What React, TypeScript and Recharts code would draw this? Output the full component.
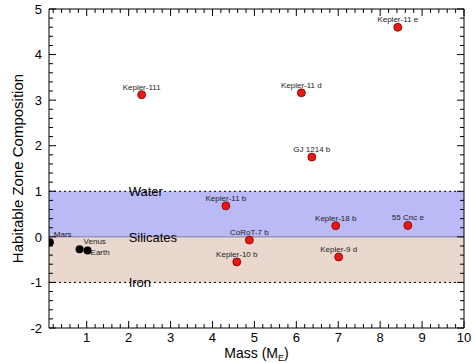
import React from 'react';
import {
  ScatterChart,
  Scatter,
  XAxis,
  YAxis,
  ReferenceArea,
  ReferenceLine,
} from 'recharts';

// exoplanets (mass in Earth masses, habitable zone composition)
const planetNames = [
  'Kepler-11 e', 'Kepler-111', 'Kepler-11 d', 'GJ 1214 b', 'Kepler-11 b',
  'CoRoT-7 b', 'Kepler-10 b', 'Kepler-18 b', '55 Cnc e', 'Kepler-9 d',
];
const planetMass = [8.42, 2.31, 6.12, 6.37, 4.32, 4.88, 4.58, 6.94, 8.66, 7.01];
const planetComp = [4.6, 3.12, 3.16, 1.75, 0.68, -0.07, -0.55, 0.245, 0.25, -0.44];

// solar system planets
const solarNames = ['Mars', 'Venus', 'Earth'];
const solarMass = [0.12, 0.83, 1.02];
const solarComp = [-0.12, -0.27, -0.3];
const solarLabelSide = ['aboveRight', 'aboveRight', 'right'];

// composition zones
const zoneNames = ['Water', 'Silicates', 'Iron'];
const zoneLevels = [1, 0, -1];
const zoneStartMass = 2;

const xMajor = [1, 2, 3, 4, 5, 6, 7, 8, 9, 10];
const yMajor = [-2, -1, 0, 1, 2, 3, 4, 5];
const xTicks = Array.from({ length: 50 }, (_, i) => Math.round((i + 1) * 2) / 10);
const yTicks = Array.from({ length: 36 }, (_, i) => Math.round((-2 + i * 0.2) * 10) / 10);

const planets = planetNames.map((name, i) => ({ name, x: planetMass[i], y: planetComp[i] }));
const solar = solarNames.map((name, i) => ({ name, x: solarMass[i], y: solarComp[i], side: solarLabelSide[i] }));
const zones = zoneNames.map((name, i) => ({ name, x: zoneStartMass, y: zoneLevels[i] }));

const FONT = '"Liberation Sans", Arial, Helvetica, sans-serif';
const isMajor = (v: number) => Math.abs(v - Math.round(v)) < 1e-6;

const BottomTick = ({ x, y, payload }: any) => {
  const major = isMajor(payload.value);
  return (
    <g>
      <line x1={x} y1={y} x2={x} y2={y - (major ? 7 : 4)} stroke="#000" />
      {major && xMajor.includes(Math.round(payload.value)) && (
        <text x={x} y={y + 14} textAnchor="middle" fontSize={13} fontFamily={FONT} fill="#000">
          {Math.round(payload.value)}
        </text>
      )}
    </g>
  );
};

const TopTick = ({ x, y, payload }: any) => (
  <line x1={x} y1={y} x2={x} y2={y + (isMajor(payload.value) ? 7 : 4)} stroke="#000" />
);

const LeftTick = ({ x, y, payload }: any) => {
  const major = isMajor(payload.value);
  return (
    <g>
      <line x1={x} y1={y} x2={x + (major ? 7 : 4)} y2={y} stroke="#000" />
      {major && yMajor.includes(Math.round(payload.value)) && (
        <text x={x - 7} y={y} dy="0.36em" textAnchor="end" fontSize={13} fontFamily={FONT} fill="#000">
          {Math.round(payload.value)}
        </text>
      )}
    </g>
  );
};

const RightTick = ({ x, y, payload }: any) => (
  <line x1={x} y1={y} x2={x - (isMajor(payload.value) ? 7 : 4)} y2={y} stroke="#000" />
);

const PlanetDot = ({ cx, cy, payload }: any) => (
  <g>
    <circle cx={cx} cy={cy} r={4} fill="#e8190f" stroke="#7a0000" strokeWidth={0.8} />
    <text x={cx} y={cy - 5} textAnchor="middle" fontSize={8} fontFamily={FONT} fill="#222">
      {payload.name}
    </text>
  </g>
);

const SolarDot = ({ cx, cy, payload }: any) => {
  const right = payload.side === 'right';
  return (
    <g>
      <circle cx={cx} cy={cy} r={4} fill="#000" />
      <text
        x={cx + (right ? 3 : 4)}
        y={cy + (right ? 4 : -5)}
        textAnchor="start"
        fontSize={8}
        fontFamily={FONT}
        fill="#222"
      >
        {payload.name}
      </text>
    </g>
  );
};

const ZoneLabel = ({ cx, cy, payload }: any) => (
  <text x={cx} y={cy} dy="0.36em" fontSize={13} fontFamily={FONT} fill="#000">
    {payload.name}
  </text>
);

const XLabel = ({ viewBox }: any) => (
  <text
    x={viewBox.x + viewBox.width / 2}
    y={viewBox.y + 30}
    textAnchor="middle"
    fontSize={14}
    fontFamily={FONT}
    fill="#000"
  >
    Mass (M<tspan fontSize={9} dy={3}>E</tspan>
    <tspan dy={-3}>)</tspan>
  </text>
);

const YLabel = ({ viewBox }: any) => {
  const cx = viewBox.x + 18;
  const cy = viewBox.y + viewBox.height / 2;
  return (
    <text
      x={cx}
      y={cy}
      dy="0.36em"
      transform={`rotate(-90, ${cx}, ${cy})`}
      textAnchor="middle"
      fontSize={15}
      fontFamily={FONT}
      fill="#000"
    >
      Habitable Zone Composition
    </text>
  );
};

export default function App() {
  return (
    <div style={{ position: 'absolute', left: 0, top: 0, background: '#fff' }}>
      <ScatterChart width={475} height={363} margin={{ top: 0, right: 0, bottom: 0, left: 0 }}>
        <XAxis
          xAxisId="b"
          type="number"
          dataKey="x"
          domain={[0.1, 10]}
          allowDataOverflow
          ticks={xTicks}
          interval={0}
          height={35}
          tickSize={0}
          tickMargin={0}
          tickLine={false}
          axisLine={{ stroke: '#000' }}
          tick={<BottomTick />}
          label={<XLabel />}
        />
        <XAxis
          xAxisId="t"
          orientation="top"
          type="number"
          dataKey="x"
          domain={[0.1, 10]}
          allowDataOverflow
          ticks={xTicks}
          interval={0}
          height={9}
          tickSize={0}
          tickMargin={0}
          tickLine={false}
          axisLine={{ stroke: '#000' }}
          tick={<TopTick />}
        />
        <YAxis
          yAxisId="l"
          type="number"
          dataKey="y"
          domain={[-2, 5]}
          allowDataOverflow
          ticks={yTicks}
          interval={0}
          width={49}
          tickSize={0}
          tickMargin={0}
          tickLine={false}
          axisLine={{ stroke: '#000' }}
          tick={<LeftTick />}
          label={<YLabel />}
        />
        <YAxis
          yAxisId="r"
          orientation="right"
          type="number"
          dataKey="y"
          domain={[-2, 5]}
          allowDataOverflow
          ticks={yTicks}
          interval={0}
          width={11}
          tickSize={0}
          tickMargin={0}
          tickLine={false}
          axisLine={{ stroke: '#000' }}
          tick={<RightTick />}
        />
        <ReferenceArea xAxisId="b" yAxisId="l" y1={0} y2={1} fill="#babaf6" fillOpacity={1} stroke="none" />
        <ReferenceArea xAxisId="b" yAxisId="l" y1={-1} y2={0} fill="#ead8cf" fillOpacity={1} stroke="none" />
        <ReferenceLine xAxisId="b" yAxisId="l" y={1} stroke="#000" strokeDasharray="2 3" />
        <ReferenceLine xAxisId="b" yAxisId="l" y={-1} stroke="#000" strokeDasharray="2 3" />
        <ReferenceLine xAxisId="b" yAxisId="l" y={0} stroke="#7878a8" />
        <Scatter xAxisId="b" yAxisId="l" data={zones} shape={<ZoneLabel />} isAnimationActive={false} />
        <Scatter xAxisId="b" yAxisId="l" data={solar} shape={<SolarDot />} isAnimationActive={false} />
        <Scatter xAxisId="b" yAxisId="l" data={planets} shape={<PlanetDot />} isAnimationActive={false} />
      </ScatterChart>
    </div>
  );
}
